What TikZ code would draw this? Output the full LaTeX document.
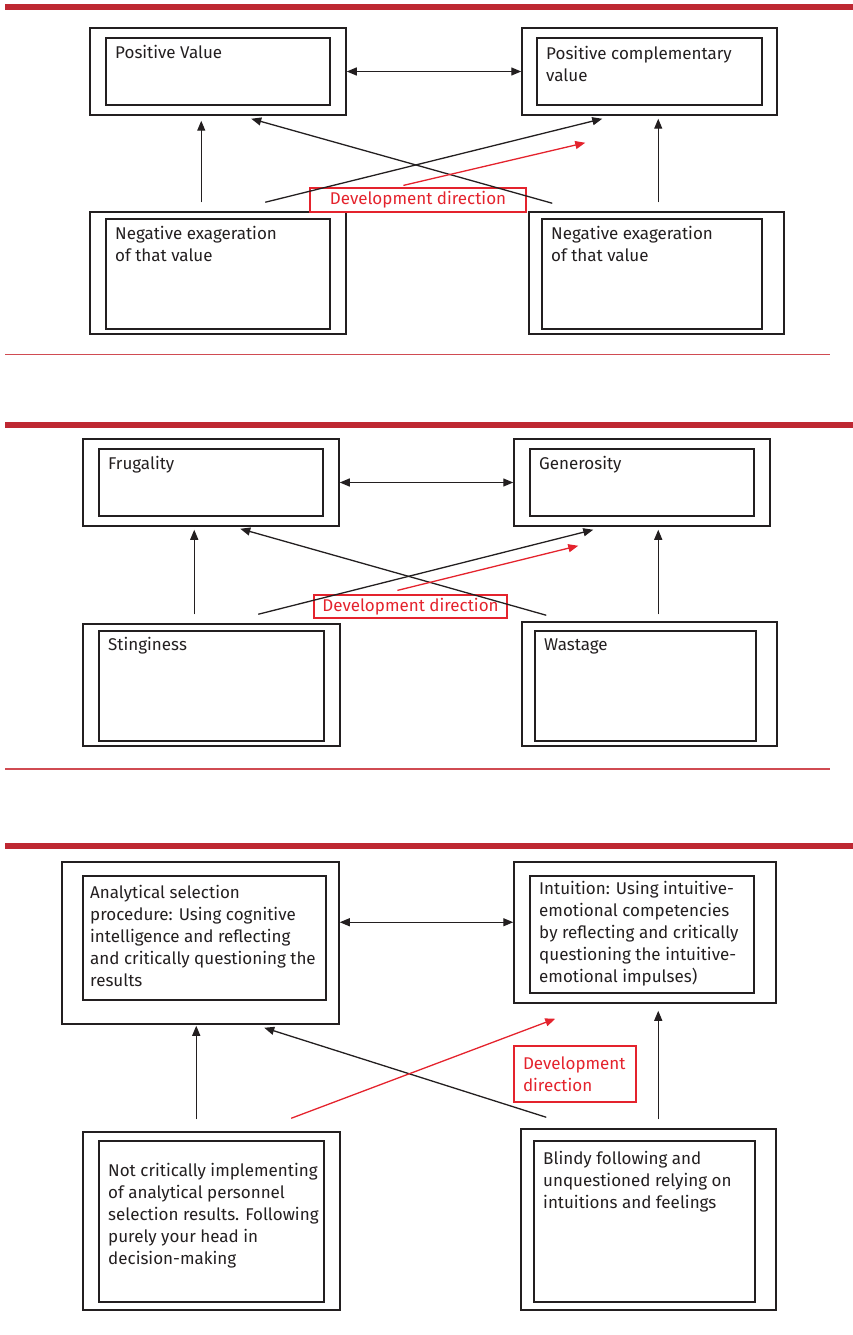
\documentclass[tikz,border=0pt]{standalone}
\usepackage{fontspec}
\setmainfont{Fira Sans}
\usetikzlibrary{arrows.meta,calc,fit}
\definecolor{dk}{RGB}{35,31,32}
\definecolor{barred}{RGB}{190,40,50}
\definecolor{rd}{RGB}{228,35,45}
\definecolor{thinred}{RGB}{208,75,82}
\newcommand\fst{\rule{0pt}{14pt}}
\tikzset{
  obox/.style={draw=dk, line width=1.5pt, inner sep=0pt},
  ibox/.style={draw=dk, line width=1.4pt, inner sep=0pt},
  txt/.style={anchor=north west, align=left, inner sep=0pt, text=dk, font=\fontsize{17}{22}\selectfont},
  arr/.style={draw=dk, line width=1.3pt, -{Triangle[length=10pt,width=8pt]}},
  dbl/.style={draw=dk, line width=1.3pt, {Triangle[length=10pt,width=8pt]}-{Triangle[length=10pt,width=8pt]}},
  redarr/.style={draw=rd, line width=1.3pt, -{Triangle[length=10pt,width=8pt]}},
  redbox/.style={draw=rd, line width=1.2pt, text=rd, inner sep=0pt, font=\fontsize{17}{22}\selectfont},
  topbar/.style={fill=barred, draw=none},
  sepline/.style={draw=thinred, line width=1.5pt},
}
\begin{document}
\begin{tikzpicture}[x=1pt,y=-1pt]
\useasboundingbox (0,0) rectangle (853,1335);

% ---------------- Section 1 ----------------
\fill[topbar] (5,4) rectangle (853,10);
\node[obox, fit={(90,28)(346,115)}] (pvO) {};
\node[ibox, fit={(106,38)(330,105)}] (pvI) {};
\node[txt] (pvT) at (115,44) {\fst Positive Value};
\node[obox, fit={(522,28)(777,115)}] (pcvO) {};
\node[ibox, fit={(537,38)(762,105)}] (pcvI) {};
\node[txt] (pcvT) at (546,45) {\fst Positive complementary\\value};
\node[obox, fit={(90,212)(346,334)}] (nlO) {};
\node[ibox, fit={(106,219)(330,329)}] (nlI) {};
\node[txt] (nlT) at (115,225) {\fst Negative exageration\\of that value};
\node[obox, fit={(529,212)(784,334)}] (nrO) {};
\node[ibox, fit={(542,219)(762,329)}] (nrI) {};
\node[txt] (nrT) at (551,225) {\fst Negative exageration\\of that value};
\node[redbox, minimum width=216pt, minimum height=24pt] (rb1) at (418,200) {Development direction};

\draw[dbl] (pvO) -- (pcvO);
\draw[arr] ($(nlO.north west)+(112,-9)$) -- ($(pvO.south west)+(112,5)$);
\draw[arr] ($(nrO.north west)+(24,-8)$) -- ($(pvO.south west)+(162,3)$);
\draw[arr] ($(nlO.north west)+(176,-9)$) -- ($(pcvO.south west)+(81,3)$);
\draw[arr] ($(nrO.north west)+(130,-9)$) -- ($(pcvO.south west)+(137,3)$);
\draw[redarr] ($(rb1.north west)+(94,-2)$) -- ($(pcvO.south west)+(64,27)$);
\draw[sepline] (5,354.5) -- (830,354.5);

% ---------------- Section 2 ----------------
\fill[topbar] (5,422) rectangle (853,428);
\node[obox, fit={(83,439)(339,526)}] (fO) {};
\node[ibox, fit={(99,449)(323,516)}] (fI) {};
\node[txt] (fT) at (108,455) {\fst Frugality};
\node[obox, fit={(514,439)(770,526)}] (gO) {};
\node[ibox, fit={(530,449)(754,516)}] (gI) {};
\node[txt] (gT) at (539,455) {\fst Generosity};
\node[obox, fit={(83,624)(340,746)}] (sO) {};
\node[ibox, fit={(99,631)(324,741)}] (sI) {};
\node[txt] (sT) at (108,636) {\fst Stinginess};
\node[obox, fit={(522,622)(777,746)}] (wO) {};
\node[ibox, fit={(535,631)(756,741)}] (wI) {};
\node[txt] (wT) at (544,636) {\fst Wastage};
\node[redbox, minimum width=193pt, minimum height=23pt] (rb2) at (410.5,606.5) {Development direction};

\draw[dbl] (fO) -- (gO);
\draw[arr] ($(sO.north west)+(112,-9)$) -- ($(fO.south west)+(112,3)$);
\draw[arr] ($(wO.north west)+(25,-6)$) -- ($(fO.south west)+(158,2)$);
\draw[arr] ($(sO.north west)+(176,-9)$) -- ($(gO.south west)+(80,3)$);
\draw[arr] ($(wO.north west)+(137,-7)$) -- ($(gO.south west)+(145,3)$);
\draw[redarr] ($(rb2.north west)+(84,-4)$) -- ($(gO.south west)+(65,19)$);
\draw[sepline] (5,769) -- (830,769);

% ---------------- Section 3 ----------------
\fill[topbar] (5,843) rectangle (853,849);
\node[obox, fit={(62,862)(339,1024)}] (aO) {};
\node[ibox, fit={(83,876)(326,1000)}] (aI) {};
\node[txt] (aT) at (90,884) {\fst Analytical selection\\procedure: Using cognitive\\intelligence and reflecting\\and critically questioning the\\results};
\node[obox, fit={(514,862)(776,1003)}] (iO) {};
\node[ibox, fit={(530,876)(754,993)}] (iI) {};
\node[txt] (iT) at (539,880) {\fst Intuition: Using intuitive-\\emotional competencies\\by reflecting and critically\\questioning the intuitive-\\emotional impulses)};
\node[obox, fit={(83,1132)(340,1310)}] (blO) {};
\node[ibox, fit={(99,1141)(324,1302)}] (blI) {};
\node[txt] (blT) at (108,1162) {\fst Not critically implementing\\of analytical personnel\\selection results. Following\\purely your head in\\decision-making};
\node[obox, fit={(521,1129)(776,1310)}] (brO) {};
\node[ibox, fit={(534,1141)(755,1302)}] (brI) {};
\node[txt] (brT) at (543,1150) {\fst Blindy following and\\unquestioned relying on\\intuitions and feelings};
\node[redbox, minimum width=122pt, minimum height=56pt, align=left, text width=104pt] (rb3) at (575,1074) {Development\\direction};

\draw[dbl] ($(aO.north east)+(0,61)$) -- ($(iO.north west)+(0,61)$);
\draw[arr] ($(blO.north west)+(114,-12)$) -- ($(aO.south west)+(135,1)$);
\draw[arr] ($(brO.north west)+(26,-11)$) -- ($(aO.south west)+(203,3)$);
\draw[arr] ($(brO.north west)+(138,-9)$) -- ($(iO.south west)+(145,7)$);
\draw[redarr] ($(blO.north west)+(209,-13)$) -- ($(iO.south west)+(42,15)$);
\end{tikzpicture}
\end{document}
